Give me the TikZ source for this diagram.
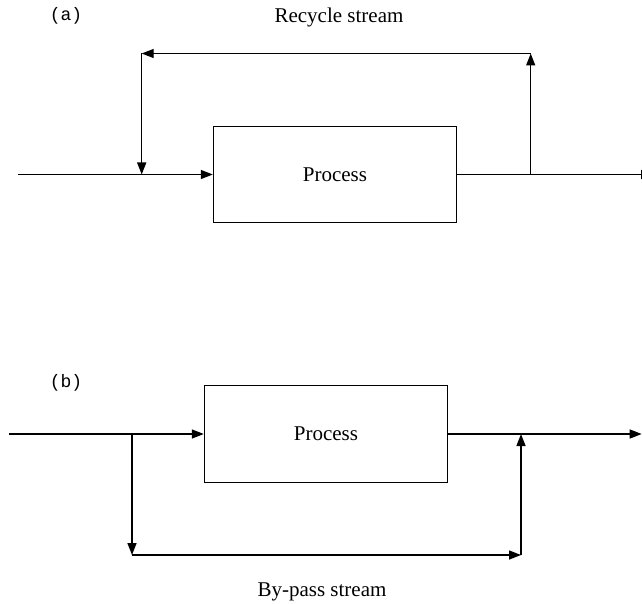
\documentclass[tikz,border=0pt]{standalone}
\usepackage{fontspec}
\setmainfont{Liberation Serif}
\setmonofont{Liberation Mono}
\usetikzlibrary{arrows.meta}
\begin{document}
\begin{tikzpicture}[x=1pt,y=-1pt,
  line width=1.4pt,
  flow/.style={-{Triangle[length=12pt,width=9pt]}},
  procbox/.style={draw, line width=1pt, minimum width=243.4pt, minimum height=96.6pt, inner sep=0pt, font=\fontsize{21}{24}\selectfont},
  lbl/.style={font=\fontsize{21}{24}\selectfont, inner sep=0pt},
  tag/.style={font=\ttfamily\fontsize{18}{20}\selectfont, inner sep=0pt}]
\useasboundingbox (0,0) rectangle (642,604);
% (a) recycle
\node[tag] (taga) at (66,16) {(a)};
\node[lbl, anchor=base] (rec) at (339,23) {Recycle stream};
\node[procbox] (boxa) at (335,174.5) {Process};
\coordinate (ina) at (18,174.5);
\coordinate (spa) at (141.7,174.5);
\coordinate (tla) at (141.7,53.5);
\coordinate (tra) at (530.7,53.5);
\coordinate (joa) at (530.7,174.5);
\coordinate (outa) at (653,174.5);
\draw[flow] (ina) -- (boxa.west);
\draw[flow] (joa) -- (tra);
\draw[flow] (tra) -- (tla);
\draw[flow] (tla) -- (spa);
\draw[flow] (boxa.east) -- (outa);
% (b) by-pass
\node[tag] (tagb) at (66,383) {(b)};
\node[procbox] (boxb) at (326,434) {Process};
\node[lbl, anchor=base] (byp) at (322,596) {By-pass stream};
\coordinate (inb) at (9.3,434);
\coordinate (spb) at (132,434);
\coordinate (blb) at (132,555);
\coordinate (brb) at (521,555);
\coordinate (job) at (521,434);
\coordinate (outb) at (641.7,434);
\draw[flow] (inb) -- (boxb.west);
\draw[flow] (spb) -- (blb);
\draw[flow] (blb) -- (brb);
\draw[flow] (brb) -- (job);
\draw[flow] (boxb.east) -- (outb);
\end{tikzpicture}
\end{document}
